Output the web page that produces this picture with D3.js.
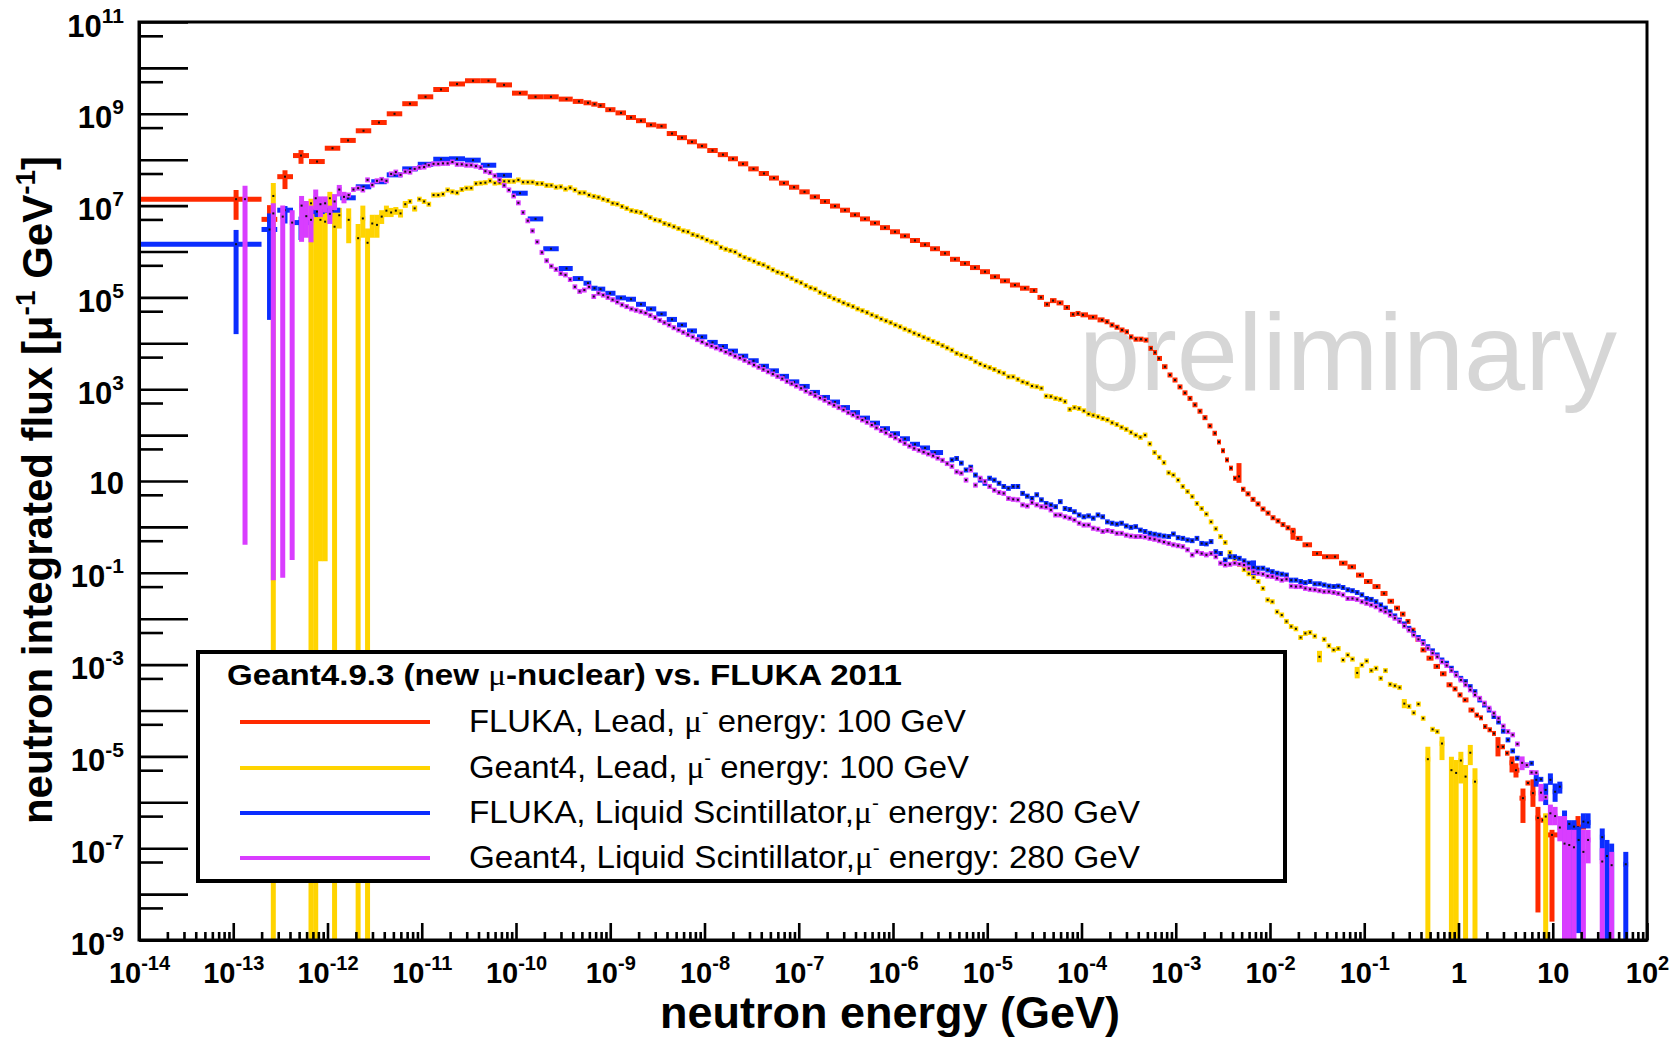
<!DOCTYPE html>
<html><head><meta charset="utf-8">
<script src="https://cdn.jsdelivr.net/npm/d3@7"></script>
<style>body{margin:0;background:#fff}svg{display:block}text{font-family:"Liberation Sans",Arial,Helvetica,sans-serif}</style>
</head><body>
<svg id="chart" width="1679" height="1037"></svg>
<script>
// ---------------- axis / tick data ----------------
const xDecadeExponents = [-14,-13,-12,-11,-10,-9,-8,-7,-6,-5,-4,-3,-2,-1,0,1,2];
const xMinorMultipliers = [2,3,4,5,6,7,8,9];
const yDecadeExponents = [-9,-8,-7,-6,-5,-4,-3,-2,-1,0,1,2,3,4,5,6,7,8,9,10,11];
const yLabelExponents = [11,9,7,5,3,1,-1,-3,-5,-7,-9];
const yMinorMultiplier = 5;

// ---------------- series data (log10 GeV, log10 flux) ----------------
// FLUKA, Lead, mu- 100 GeV  (bin centres / values)
const flukaLeadLogE = [
-12.97,-12.615,-12.451,-12.281,-12.111,-11.947,-11.782,-11.618,-11.454,-11.289,
-11.125,-10.960,-10.796,-10.626,-10.456,-10.292,-10.127,-9.958,-9.793,-9.629,
-9.464,-9.332,-9.236,-9.167,-9.103,-9.003,-8.886,-8.780,-8.674,-8.568,
-8.456,-8.345,-8.239,-8.133,-8.027,-7.915,-7.804,-7.698,-7.592,-7.480,
-7.369,-7.263,-7.157,-7.050,-6.939,-6.828,-6.722,-6.615,-6.509,-6.403,
-6.297,-6.191,-6.085,-5.979,-5.873,-5.767,-5.660,-5.554,-5.448,-5.342,
-5.236,-5.130,-5.024,-4.918,-4.812,-4.706,-4.599,-4.504,-4.430,-4.366,
-4.302,-4.228,-4.154,-4.090,-4.037,-3.984,-3.878,-3.782,-3.729,-3.676,
-3.623,-3.570,-3.517,-3.475,-3.422,-3.369,-3.316,-3.263,-3.220,-3.178,
-3.114,-3.061,-3.008,-2.955,-2.902,-2.849,-2.796,-2.743,-2.690,-2.637,
-2.584,-2.541,-2.499,-2.456,-2.414,-2.371,-2.329,-2.287,-2.233,-2.180,
-2.127,-2.074,-2.021,-1.968,-1.915,-1.862,-1.809,-1.756,-1.703,-1.607,
-1.501,-1.395,-1.310,-1.225,-1.130,-1.045,-0.960,-0.865,-0.790,-0.716,
-0.652,-0.589,-0.536,-0.483,-0.430,-0.377,-0.302,-0.228,-0.164,-0.090,
-0.037,0.016,0.069,0.143,0.196,0.239,0.281,0.334,0.377,0.419,
0.472,0.515,0.568,0.610,0.684,0.737,0.790,0.843,0.896,0.992,
1.268];
const flukaLeadLogFlux = [
7.14,6.70,7.63,8.09,7.96,8.25,8.42,8.63,8.81,9.00,
9.22,9.37,9.53,9.65,9.72,9.72,9.63,9.45,9.37,9.37,
9.32,9.27,9.24,9.21,9.18,9.09,9.02,8.92,8.85,8.76,
8.73,8.57,8.48,8.39,8.30,8.20,8.11,8.02,7.91,7.80,
7.70,7.60,7.49,7.40,7.30,7.19,7.09,6.99,6.90,6.80,
6.71,6.62,6.52,6.43,6.34,6.24,6.15,6.06,5.96,5.83,
5.74,5.65,5.56,5.45,5.36,5.27,5.20,5.15,5.00,4.85,
4.93,4.88,4.78,4.63,4.65,4.62,4.57,4.51,4.47,4.40,
4.35,4.29,4.25,4.14,4.09,4.09,4.07,3.89,3.80,3.67,
3.49,3.31,3.20,3.05,2.92,2.80,2.66,2.52,2.38,2.20,
2.04,1.85,1.66,1.46,1.28,1.06,1.10,0.82,0.72,0.60,
0.50,0.39,0.30,0.20,0.13,0.05,-0.02,-0.10,-0.25,-0.39,
-0.58,-0.65,-0.65,-0.79,-0.87,-1.05,-1.19,-1.30,-1.45,-1.62,
-1.77,-1.90,-2.06,-2.25,-2.45,-2.68,-2.86,-3.04,-3.20,-3.44,
-3.53,-3.66,-3.77,-3.99,-4.10,-4.16,-4.35,-4.42,-4.50,-4.79,
-4.79,-4.93,-5.14,-5.30,-5.91,-5.58,-5.80,-6.34,-6.39,-6.71,
-6.54];
// [bin centre, low, high]  (null low = down to the axis)
const flukaLeadErrBars = [
[-12.97,6.69,7.34],[-12.615,6.62,7.01],[-12.451,7.36,7.77],[-12.281,7.91,8.21],
[-2.329,0.96,1.39],[-1.756,-0.28,-0.02],[0.419,-5.0,-4.58],[0.568,-5.35,-5.0],
[0.610,-5.46,-5.15],[0.684,-6.45,-5.7],[0.790,-6.1,-5.5],[0.843,-8.4,-6.1],
[0.992,-8.6,-6.6],[1.268,-6.8,-6.3]];

// FLUKA, Liquid Scintillator, mu- 280 GeV : group part
const flukaLSGroupLogE = [
-12.97,-12.615,-12.451,-12.281,-12.111,-11.947,-11.782,-11.618,-11.454,-11.289,
-11.125,-10.960,-10.796,-10.626,-10.456,-10.292,-10.127,-9.958,-9.793,-9.629,
-9.464,-9.332,-9.236,-9.167,-9.103,-9.003,-8.886,-8.780,-8.674,-8.568,
-8.456,-8.345,-8.239,-8.133,-8.027,-7.915,-7.804,-7.698,-7.592,-7.480,
-7.369,-7.263,-7.157,-7.050,-6.939,-6.828,-6.722,-6.615,-6.509,-6.403,
-6.297,-6.191,-6.085,-5.979,-5.873,-5.767,-5.660,-5.554];
const flukaLSGroupLogFlux = [
6.16,6.48,6.90,6.63,6.87,6.90,7.17,7.41,7.52,7.67,
7.80,7.90,8.01,8.02,7.99,7.88,7.66,7.27,6.71,6.06,
5.63,5.41,5.31,5.20,5.18,5.09,4.99,4.96,4.85,4.75,
4.64,4.52,4.40,4.27,4.14,4.02,3.93,3.83,3.72,3.62,
3.50,3.40,3.28,3.16,3.06,2.93,2.82,2.72,2.60,2.49,
2.37,2.26,2.14,2.03,1.92,1.80,1.72,1.62];
const flukaLSGroupErrBars = [
[-12.97,4.2,6.47],[-12.615,4.51,6.83],[-12.451,6.61,6.99],[-12.281,6.25,6.76],[-12.111,6.75,6.98]];
// FLUKA, Liquid Scintillator : fine part, 0.05-decade bins from 10^-5.40
const flukaLSFineStart = -5.40, flukaLSFineStep = 0.05;
const flukaLSFineLogFlux = [
1.46,1.49,1.39,1.24,1.30,1.13,1.02,0.95,1.06,1.02,0.95,0.88,0.84,0.88,0.88,0.73,0.67,0.62,0.70,0.59,
0.51,0.48,0.44,0.55,0.40,0.38,0.33,0.26,0.22,0.24,0.19,0.26,0.22,0.11,0.08,0.06,0.08,0.02,-0.01,0.005,
-0.07,-0.10,-0.14,-0.16,-0.18,-0.20,-0.21,-0.155,-0.235,-0.25,-0.285,-0.30,-0.25,-0.36,-0.37,-0.32,-0.54,-0.58,-0.72,-0.65,
-0.65,-0.685,-0.74,-0.79,-0.88,-0.90,-0.90,-0.94,-0.975,-1.01,-1.03,-1.05,-1.16,-1.16,-1.19,-1.215,-1.19,-1.24,-1.24,-1.265,
-1.29,-1.30,-1.29,-1.32,-1.37,-1.39,-1.43,-1.48,-1.56,-1.58,-1.63,-1.70,-1.77,-1.85,-1.94,-2.03,-2.115,-2.21,-2.32,-2.41,
-2.50,-2.61,-2.70,-2.79,-2.90,-2.97,-3.08,-3.19,-3.30,-3.37,-3.48,-3.59,-3.77,-3.88,-3.99,-4.13,-4.25,-4.45,-4.64,-4.88,
-5.04,null,-5.19,-5.15,-5.51,-5.50,-5.73,-5.51,-5.77,-5.66,-6.40,-6.47,-6.53,-6.82,-6.42,-6.44,null,null,-6.76,-7.17,
-7.37,null,null,-7.35];
// [bin lower edge, low, high]
const flukaLSFineErrBars = [
[-2.20,-1.05,-0.73],[0.80,-5.66,-5.37],[0.90,-6.06,-5.59],[0.95,-5.62,-5.37],[1.00,-5.99,-5.59],
[1.05,-5.81,-5.55],[1.10,null,-6.18],[1.15,null,-6.39],[1.20,-6.8,-6.39],[1.25,-8.85,-6.53],
[1.30,-6.57,-6.24],[1.35,-6.57,-6.24],[1.50,-7.26,-6.57],[1.55,null,-6.82],[1.60,null,-6.90],[1.75,null,-7.08]];
const flukaFirstBinLogEdges = [-15, -12.70];

// Geant4 : 0.05-decade bins
const g4Step = 0.05;
const g4LeadStart = -12.60;
const g4LeadLogFlux = [
7.21,null,null,null,null,null,null,null,7.05,6.80,6.69,6.65,
7.16,6.54,6.79,null,6.69,null,6.29,6.72,6.19,6.61,6.58,6.76,6.89,6.85,6.89,6.83,7.03,7.09,6.94,7.14,
7.09,7.03,7.23,7.23,7.25,7.34,7.30,7.28,7.35,7.38,7.38,7.48,7.49,7.50,7.54,7.49,7.50,7.53,7.53,7.53,
7.56,7.51,7.51,7.51,7.48,7.48,7.44,7.44,7.40,7.41,7.36,7.39,7.34,7.28,7.28,7.23,7.20,7.18,7.14,7.11,
7.05,7.035,6.98,6.94,6.89,6.87,6.85,6.79,6.74,6.69,6.67,6.61,6.58,6.54,6.50,6.45,6.43,6.37,6.34,6.30,
6.25,6.21,6.18,6.09,6.05,6.02,5.99,5.92,5.87,5.83,5.79,5.74,5.71,5.655,5.60,5.55,5.52,5.47,5.415,5.36,
5.32,5.26,5.21,5.18,5.11,5.07,5.02,4.97,4.93,4.88,4.84,4.80,4.75,4.71,4.67,4.62,4.58,4.53,4.49,4.45,
4.40,4.36,4.31,4.27,4.22,4.18,4.13,4.09,4.04,4.00,3.95,3.90,3.85,3.78,3.745,3.71,3.67,3.60,3.55,3.505,
3.47,3.43,3.38,3.345,3.27,3.27,3.215,3.16,3.13,3.07,3.055,3.02,2.85,2.84,2.80,2.78,2.73,2.56,2.60,2.58,
2.53,2.46,2.43,2.40,2.36,2.33,2.27,2.23,2.17,2.125,2.06,2.00,1.95,2.00,1.81,1.62,1.515,1.40,1.18,1.13,
1.02,0.88,0.77,0.66,0.51,0.40,0.28,0.11,-0.04,-0.21,-0.34,-0.56,-0.70,-0.82,-0.93,-1.02,-1.10,-1.19,-1.34,-1.59,
-1.63,-1.85,-1.92,-2.06,-2.17,-2.22,-2.41,-2.32,-2.30,-2.38,-2.83,-2.45,-2.59,-2.68,-2.65,-2.90,-2.79,-2.88,-3.18,-3.01,
-2.92,-3.13,-3.08,-3.30,-3.13,-3.43,-3.46,-3.50,-3.85,-3.91,-4.05,-3.86,-4.17,-5.06,-4.41,-4.46,-4.72,null,-5.30,-5.36,
-5.09,-5.44,-4.92,-5.55,null,null,null,null,null,null,null,null,null,null,null,null,null,null,-6.31];
const g4LeadErrBars = [
[-12.60,null,7.49],[-12.20,null,7.15],[-12.15,null,7.15],[-12.10,-0.75,7.0],[-12.05,-0.75,7.0],
[-12.00,6.95,7.30],[-11.95,null,6.90],[-11.90,6.50,6.95],[-11.80,6.18,6.94],[-11.70,null,6.60],
[-11.65,6.30,7.00],[-11.60,null,6.50],[-11.55,6.30,6.80],[-11.50,6.30,6.80],[-11.45,6.60,6.90],
[-11.40,6.75,7.00],[-11.35,6.75,6.95],[-11.30,6.80,6.97],[-11.25,6.74,6.92],[-11.20,6.95,7.10],[-11.10,6.87,7.00],
[-1.50,-2.95,-2.70],[-1.10,-3.30,-3.05],[-0.60,-3.95,-3.75],[-0.35,null,-4.79],[-0.20,-5.08,-4.57],
[-0.10,null,-5.01],[-0.05,null,-5.08],[0.00,-5.59,-4.90],[0.05,null,-5.19],[0.10,-5.19,-4.75],
[0.15,null,-5.26],[0.90,null,-6.24]];

const g4LSStart = -12.90;
const g4LSLogFlux = [
7.14,null,null,null,null,null,6.83,null,6.76,null,6.63,null,7.00,6.77,6.69,7.16,7.03,7.05,
6.82,7.09,7.35,7.19,7.23,7.35,7.38,7.34,7.56,7.45,7.54,7.57,7.54,7.69,7.73,7.67,7.74,7.73,7.80,7.83,
7.84,7.88,7.91,7.91,7.92,7.92,7.95,7.90,7.90,7.88,7.88,7.86,7.83,7.75,7.72,7.65,7.56,7.44,7.34,7.21,
7.06,6.85,6.67,6.45,6.21,5.98,5.80,5.68,5.61,5.52,5.49,5.39,5.23,5.13,5.16,5.23,5.02,5.09,5.05,5.00,
4.95,4.90,4.84,4.80,4.75,4.72,4.69,4.66,4.61,4.56,4.50,4.45,4.40,4.34,4.29,4.24,4.19,4.14,4.08,4.03,
3.98,3.94,3.90,3.86,3.81,3.77,3.72,3.68,3.63,3.58,3.53,3.48,3.43,3.38,3.33,3.28,3.23,3.17,3.12,3.07,
3.02,2.96,2.91,2.86,2.81,2.76,2.70,2.65,2.60,2.55,2.49,2.44,2.39,2.33,2.28,2.22,2.16,2.10,2.05,1.99,
1.94,1.88,1.82,1.76,1.71,1.67,1.63,1.59,1.55,1.50,1.45,1.38,1.32,1.20,1.17,1.02,1.24,0.91,1.06,0.99,
0.88,0.80,0.75,0.73,0.62,0.60,0.59,0.48,0.455,0.53,0.48,0.44,0.43,0.37,0.26,0.26,0.22,0.19,0.15,0.08,
0.04,0.04,-0.03,-0.05,-0.10,-0.08,-0.10,-0.14,-0.14,-0.18,-0.20,-0.21,-0.21,-0.22,-0.25,-0.27,-0.30,-0.33,-0.36,-0.39,
-0.41,-0.43,-0.50,-0.61,-0.54,-0.58,-0.61,-0.58,-0.65,-0.79,-0.83,-0.815,-0.79,-0.81,-0.83,-0.90,-0.975,-1.01,-1.03,-1.07,
-1.08,-1.12,-1.16,-1.14,-1.29,-1.30,-1.30,-1.34,-1.36,-1.37,-1.39,-1.41,-1.41,-1.43,-1.45,-1.48,-1.56,-1.56,-1.58,-1.63,
-1.665,-1.70,-1.74,-1.81,-1.85,-1.92,-1.99,-2.06,-2.16,-2.25,-2.355,-2.45,-2.54,-2.645,-2.75,-2.83,-2.94,-3.02,-3.13,-3.23,
-3.335,-3.44,-3.55,-3.66,-3.735,-3.84,-3.95,-4.06,-4.17,-4.34,-4.46,-4.53,-4.73,-5.14,-5.19,-5.35,-5.355,-5.79,-5.89,-6.24,
-6.30,-6.55,-6.90,-6.93,-6.98,null,-7.08,-6.82,null,null,-7.29,null,-7.37];
const g4LSErrBars = [
[-12.90,-0.39,7.43],[-12.60,-1.16,7.05],[-12.50,-1.11,7.0],[-12.40,-0.72,6.9],[-12.30,6.21,7.21],
[-12.25,6.3,7.1],[-12.20,6.2,7.0],[-12.15,6.9,7.35],[-12.10,6.75,7.2],[-12.05,6.85,7.2],[-12.00,6.6,7.0],
[-11.95,6.9,7.25],[-11.90,7.2,7.45],[-11.85,7.05,7.3],
[0.65,-5.30,-5.0],[0.85,-5.98,-5.6],[0.95,-6.5,-6.05],[1.00,-6.5,-6.1],[1.05,-6.85,-6.3],
[1.10,null,-6.3],[1.15,null,-6.6],[1.20,null,-6.6],[1.30,null,-6.6],[1.35,-7.33,-6.6],[1.50,null,-7.0],[1.60,null,-7.08]];

const seriesColors = {flukaLead:'#ff2a00', g4Lead:'#ffd400', flukaLS:'#0b2dff', g4LS:'#d93dff'};
const legendPrefix = ['FLUKA, Lead, ','Geant4, Lead, ','FLUKA, Liquid Scintillator,','Geant4, Liquid Scintillator,'];
const legendSuffix = [' energy: 100 GeV',' energy: 100 GeV',' energy: 280 GeV',' energy: 280 GeV'];
const legendKeys = ['flukaLead','g4Lead','flukaLS','g4LS'];

// ---------------- drawing ----------------
const p10 = v => Math.pow(10, v);
const svg = d3.select('#chart');
const X0 = 139, X1 = 1647, Y0 = 22, Y1 = 940;
const x = d3.scaleLog().domain([1e-14, 1e2]).range([X0, X1]);
const y = d3.scaleLog().domain([1e-9, 1e11]).range([Y1, Y0]);

svg.append('defs').append('clipPath').attr('id','plotclip')
  .append('rect').attr('x',X0).attr('y',Y0).attr('width',X1-X0).attr('height',Y1-Y0);

// watermark
svg.append('text').attr('x',1079).attr('y',390).attr('font-size',110)
  .attr('fill','#d6d6d6').text('preliminary');

function centerBins(centers, vals, cap, firstEdges){
  return centers.map((c,i)=>{
    const prev = centers[i-1], next = centers[i+1];
    let lo = prev==null ? c-cap : Math.max((prev+c)/2, c-cap);
    let hi = next==null ? c+cap : Math.min((c+next)/2, c+cap);
    if(i===0 && firstEdges){ lo = firstEdges[0]; hi = firstEdges[1]; }
    return {lo, hi, c, v: vals[i]};
  }).filter(d=>d.v!=null);
}
function fixedBins(start, step, vals){
  return vals.map((v,i)=> v==null?null:{lo:start+i*step, hi:start+(i+1)*step, c:start+(i+0.5)*step, v})
    .filter(Boolean);
}
const data = svg.append('g').attr('clip-path','url(#plotclip)');
function drawSeries(bins, errs, color){
  const g = data.append('g');
  g.append('g').selectAll('line').data(bins).join('line')
    .attr('x1',d=>x(p10(d.lo))).attr('x2',d=>x(p10(d.hi)))
    .attr('y1',d=>y(p10(d.v))).attr('y2',d=>y(p10(d.v)))
    .attr('stroke',color).attr('stroke-width',5);
  g.append('g').selectAll('line').data(errs).join('line')
    .attr('x1',d=>x(p10(d.c))).attr('x2',d=>x(p10(d.c)))
    .attr('y1',d=> d.lo==null ? Y1+5 : y(p10(d.lo))).attr('y2',d=>y(p10(d.hi)))
    .attr('stroke',color).attr('stroke-width',5);
  g.append('g').selectAll('rect').data(bins).join('rect')
    .attr('x',d=>x(p10(d.c))-1).attr('y',d=>y(p10(d.v))-1).attr('width',2).attr('height',2)
    .attr('fill','#111');
}
const errC = arr => arr.map(d=>({c:d[0], lo:d[1], hi:d[2]}));
const errL = (arr, step) => arr.map(d=>({c:d[0]+step/2, lo:d[1], hi:d[2]}));

drawSeries(centerBins(flukaLeadLogE, flukaLeadLogFlux, 0.085, flukaFirstBinLogEdges),
  errC(flukaLeadErrBars), seriesColors.flukaLead);
drawSeries(fixedBins(g4LeadStart, g4Step, g4LeadLogFlux), errL(g4LeadErrBars, g4Step), seriesColors.g4Lead);
drawSeries(centerBins(flukaLSGroupLogE, flukaLSGroupLogFlux, 0.085, flukaFirstBinLogEdges)
  .concat(fixedBins(flukaLSFineStart, flukaLSFineStep, flukaLSFineLogFlux)),
  errC(flukaLSGroupErrBars).concat(errL(flukaLSFineErrBars, flukaLSFineStep)), seriesColors.flukaLS);
drawSeries(fixedBins(g4LSStart, g4Step, g4LSLogFlux), errL(g4LSErrBars, g4Step), seriesColors.g4LS);

// ---------------- axes ----------------
function powerLabel(sel, e, baseSize, supSize, rise){
  const t = sel.append('text').attr('font-weight','bold').attr('font-size',baseSize).attr('fill','#000');
  if(e===0) t.text('1');
  else if(e===1) t.text('10');
  else { t.append('tspan').text('10'); t.append('tspan').attr('dy',-rise).attr('font-size',supSize).text(String(e)); }
  return t;
}
const yAxisG = svg.append('g').attr('transform',`translate(${X0},0)`)
  .call(d3.axisLeft(y).tickValues(yDecadeExponents.map(p10)).tickSize(-49).tickSizeOuter(0).tickFormat(''));
svg.append('g').attr('transform',`translate(${X0},0)`)
  .call(d3.axisLeft(y).tickValues(yDecadeExponents.slice(0,-1).map(e=>yMinorMultiplier*p10(e))).tickSize(-24).tickSizeOuter(0).tickFormat(''))
  .select('.domain').remove();
yAxisG.selectAll('.tick').each(function(d){
  const e = Math.round(Math.log10(d));
  if(!yLabelExponents.includes(e)) return;
  powerLabel(d3.select(this), e, 31, 21, 14).attr('text-anchor','end').attr('x',-15).attr('y', e===1?12:14);
});
const xAxisG = svg.append('g').attr('transform',`translate(0,${Y1})`)
  .call(d3.axisBottom(x).tickValues(xDecadeExponents.map(p10)).tickSize(-17).tickSizeOuter(0).tickFormat(''));
const xMinor = [];
xDecadeExponents.slice(0,-1).forEach(e=>xMinorMultipliers.forEach(k=>xMinor.push(k*p10(e))));
svg.append('g').attr('transform',`translate(0,${Y1})`)
  .call(d3.axisBottom(x).tickValues(xMinor).tickSize(-8).tickSizeOuter(0).tickFormat(''))
  .select('.domain').remove();
xAxisG.selectAll('.tick').each(function(d){
  const e = Math.round(Math.log10(d));
  powerLabel(d3.select(this), e, 29, 20, 13).attr('text-anchor','middle').attr('x',0).attr('y',43);
});
svg.selectAll('.tick line').attr('stroke','#000').attr('stroke-width',2.6);
svg.selectAll('.domain').attr('stroke','#000').attr('stroke-width',3);
// frame
svg.append('rect').attr('x',X0).attr('y',Y0).attr('width',X1-X0).attr('height',Y1-Y0)
  .attr('fill','none').attr('stroke','#000').attr('stroke-width',3);

// axis titles
svg.append('text').attr('x',890).attr('y',1028).attr('text-anchor','middle')
  .attr('font-size',45).attr('font-weight','bold').text('neutron energy (GeV)');
const yt = svg.append('text').attr('transform','translate(52,490) rotate(-90)').attr('text-anchor','middle')
  .attr('font-size',42).attr('font-weight','bold');
yt.append('tspan').text('neutron integrated flux [');
yt.append('tspan').text('μ');
yt.append('tspan').attr('dy',-17).attr('font-size',28).text('-1');
yt.append('tspan').attr('dy',17).text(' GeV');
yt.append('tspan').attr('dy',-17).attr('font-size',28).text('-1');
yt.append('tspan').attr('dy',17).text(']');

// ---------------- legend ----------------
const lg = svg.append('g');
lg.append('rect').attr('x',198).attr('y',652).attr('width',1087).attr('height',229)
  .attr('fill','#fff').attr('stroke','#000').attr('stroke-width',4);
const ht = lg.append('text').attr('x',227).attr('y',685).attr('font-size',30).attr('font-weight','bold')
  .attr('textLength',675).attr('lengthAdjust','spacingAndGlyphs');
ht.append('tspan').text('Geant4.9.3 (new ');
ht.append('tspan').attr('font-family','"Liberation Serif",serif').attr('font-weight','normal').text('μ');
ht.append('tspan').text('-nuclear) vs. FLUKA 2011');
const rowBase = [732,778,823,868];
const rowLen = [497,500,671,671];
legendKeys.forEach((k,i)=>{
  lg.append('line').attr('x1',240).attr('x2',430).attr('y1',rowBase[i]-10).attr('y2',rowBase[i]-10)
    .attr('stroke',seriesColors[k]).attr('stroke-width',4);
  const t = lg.append('text').attr('x',469).attr('y',rowBase[i]).attr('font-size',32)
    .attr('textLength',rowLen[i]).attr('lengthAdjust','spacingAndGlyphs');
  t.append('tspan').text(legendPrefix[i]);
  t.append('tspan').attr('font-family','"Liberation Serif",serif').text('μ');
  t.append('tspan').attr('dy',-13).attr('font-size',20).text('-');
  t.append('tspan').attr('dy',13).text(legendSuffix[i]);
});
</script>
</body></html>
